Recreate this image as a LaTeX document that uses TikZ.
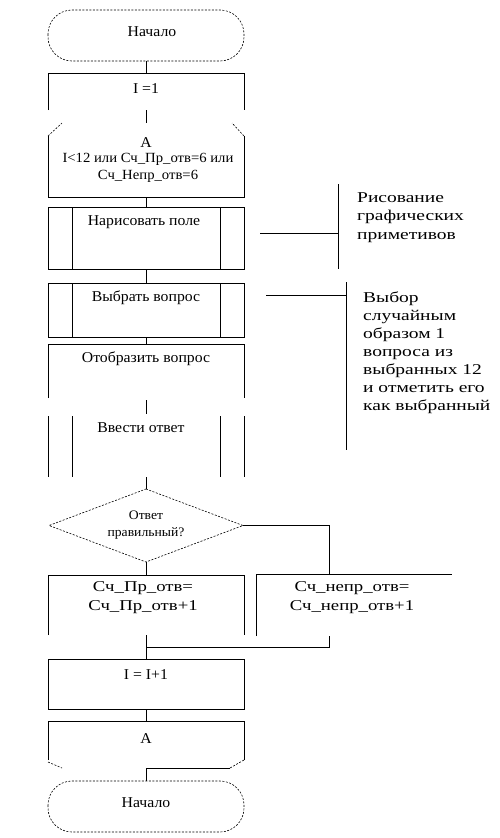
\documentclass[tikz,border=0pt]{standalone}
\usepackage{fontspec}
\setmainfont{Liberation Serif}[FakeStretch=1.05]
\newfontfamily\widefont{Liberation Serif}[FakeStretch=1.25]
\newfontfamily\notefont{Liberation Serif}[FakeStretch=1.3]
\usetikzlibrary{shapes.geometric,calc}
\tikzset{
  blk/.style={draw=none, minimum width=196pt, inner sep=0pt, outer sep=0pt},
  txt/.style={font=\fontsize{15}{18}\selectfont, inner sep=0pt, align=center},
  stxt/.style={font=\fontsize{13}{16.5}\selectfont, inner sep=0pt, align=center},
  wtxt/.style={font=\widefont\fontsize{15}{19}\selectfont, inner sep=0pt, align=center},
  ntxt/.style={font=\notefont\fontsize{15}{18.3}\selectfont, inner sep=0pt, align=left, anchor=west},
  ln/.style={line width=0.8pt, black},
  dsh/.style={line width=0.6pt, black, dash pattern=on 2pt off 1.5pt},
  term/.style={dsh, rounded corners=24pt},
}
\begin{document}
\begin{tikzpicture}[x=1pt,y=-1pt]
\useasboundingbox (0,0) rectangle (500,838);
% blocks
\node[blk, minimum height=51pt] (start) at (146,35.5) {};
\node[blk, minimum height=37pt] (b1) at (146,91.5) {};
\node[blk, minimum height=74pt] (loop) at (146,160) {};
\node[blk, minimum height=62pt] (b3) at (146,238) {};
\node[blk, minimum height=54pt] (b4) at (146,310) {};
\node[blk, minimum height=56pt] (b5) at (146,372) {};
\node[blk, minimum height=63pt] (b6) at (146,445.5) {};
\node[draw=none, shape=diamond, minimum width=194pt, minimum height=73pt, inner sep=0pt, outer sep=0pt] (dia) at (146,525.5) {};
\node[blk, minimum height=60pt] (lb) at (146,605) {};
\node[blk, minimum height=62pt] (rb) at (354,605) {};
\node[blk, minimum height=50pt] (b7) at (146,684) {};
\node[blk, minimum height=47pt] (bA) at (146,744.5) {};
\node[blk, minimum height=51pt] (end) at (146,806.5) {};
\coordinate (m) at (146,647);
% shapes
\draw[term] (start.north west) rectangle (start.south east);
\draw[term] (end.north west) rectangle (end.south east);
\draw[ln] (b1.south west) -- (b1.north west) -- (b1.north east) -- (b1.south east);
\draw[dsh] ([yshift=-13pt]loop.north west) -- ([xshift=14pt]loop.north west);
\draw[dsh] ([yshift=-13pt]loop.north east) -- ([xshift=-12pt]loop.north east);
\draw[ln] ([yshift=-13pt]loop.north west) -- (loop.south west) -- (loop.south east) -- ([yshift=-13pt]loop.north east);
\draw[ln] (b3.north west) rectangle (b3.south east);
\draw[ln] ([xshift=24pt]b3.north west) -- ([xshift=24pt]b3.south west);
\draw[ln] ([xshift=-24pt]b3.north east) -- ([xshift=-24pt]b3.south east);
\draw[ln] (b4.north west) rectangle (b4.south east);
\draw[ln] ([xshift=24pt]b4.north west) -- ([xshift=24pt]b4.south west);
\draw[ln] ([xshift=-24pt]b4.north east) -- ([xshift=-24pt]b4.south east);
\draw[ln] ([yshift=2pt]b5.south west) -- (b5.north west) -- (b5.north east) -- ([yshift=2pt]b5.south east);
\foreach \s in {0,24,172,196}{
  \draw[ln] ([xshift=\s pt, yshift=-2pt]b6.north west) -- ([xshift=\s pt]b6.south west);
}
\draw[dsh] (dia.north) -- (dia.east) -- (dia.south) -- (dia.west) -- cycle;
\draw[ln] (lb.south west) -- (lb.north west) -- (lb.north east) -- (lb.south east);
\draw[ln] (rb.south west) -- (rb.north west) -- (rb.north east);
\draw[ln] (b7.north west) rectangle (b7.south east);
\draw[ln] ([yshift=8pt]bA.south west) -- (bA.north west) -- (bA.north east) -- ([yshift=8pt]bA.south east);
\draw[dsh] ([yshift=6pt]bA.south west) -- ([xshift=14pt]bA.south west);
\draw[dsh] ([yshift=8pt]bA.south east) -- ([xshift=-14pt]bA.south east);
\draw[ln] (bA.south) -- ([xshift=-14pt]bA.south east);
% connectors
\draw[ln] (start.south) -- (b1.north);
\draw[ln] (b1.south) -- (loop.north);
\draw[ln] (loop.south) -- (b3.north);
\draw[ln] (b3.south) -- (b4.north);
\draw[ln] (b4.south) -- (b5.north);
\draw[ln] (b5.south) -- (b6.north);
\draw[ln] (b6.south) -- (dia.north);
\draw[ln] (dia.south) -- (lb.north);
\draw[ln] (dia.east) -| ([xshift=-25pt]rb.north);
\draw[ln] (lb.south) -- (b7.north);
\draw[ln] ([xshift=-25pt]rb.south) |- (m);
\draw[ln] (b7.south) -- (bA.north);
\draw[ln] (bA.south) -- (end.north);
% texts
\node[txt] (tstart) at (152,32) {Начало};
\node[txt] (tb1) at (146,89) {I =1};
\node[txt] (tloopA) at (146,143) {A};
\node[stxt, font=\fontsize{14}{16.5}\selectfont] (tloop) at (148,168) {I<12 или Сч\_Пр\_отв=6 или\\Сч\_Непр\_отв=6};
\node[txt] (tb3) at (144,222) {Нарисовать поле};
\node[txt] (tb4) at (146,298) {Выбрать вопрос};
\node[txt] (tb5) at (146,359) {Отобразить вопрос};
\node[txt] (tb6) at (141,428) {Ввести ответ};
\node[stxt] (tdia) at (146,525) {Ответ\\правильный?};
\node[wtxt] (tlb) at (143,597.5) {Сч\_Пр\_отв=\\Сч\_Пр\_отв+1};
\node[wtxt] (trb) at (352,597.5) {Сч\_непр\_отв=\\Сч\_непр\_отв+1};
\node[txt] (tb7) at (146,675) {I = I+1};
\node[txt] (tbA) at (146,739) {A};
\node[txt] (tend) at (146,803) {Начало};
% annotations
\coordinate (n1s) at (260,233);
\coordinate (n1) at (338,233);
\coordinate (n1a) at (338,184);
\coordinate (n1b) at (338,269);
\draw[ln] (n1s) -- (n1);
\draw[ln] (n1a) -- (n1b);
\node[ntxt] (note1) at (357,217.5) {Рисование\\графических\\приметивов};
\coordinate (n2s) at (266,295);
\coordinate (n2) at (346,295);
\coordinate (n2a) at (346,282);
\coordinate (n2b) at (346,450);
\draw[ln] (n2s) -- (n2);
\draw[ln] (n2a) -- (n2b);
\node[ntxt, font=\notefont\fontsize{15}{18}\selectfont] (note2) at (363,352.5) {Выбор\\случайным\\образом 1\\вопроса из\\выбранных 12\\и отметить его\\как выбранный};
\end{tikzpicture}
\end{document}
